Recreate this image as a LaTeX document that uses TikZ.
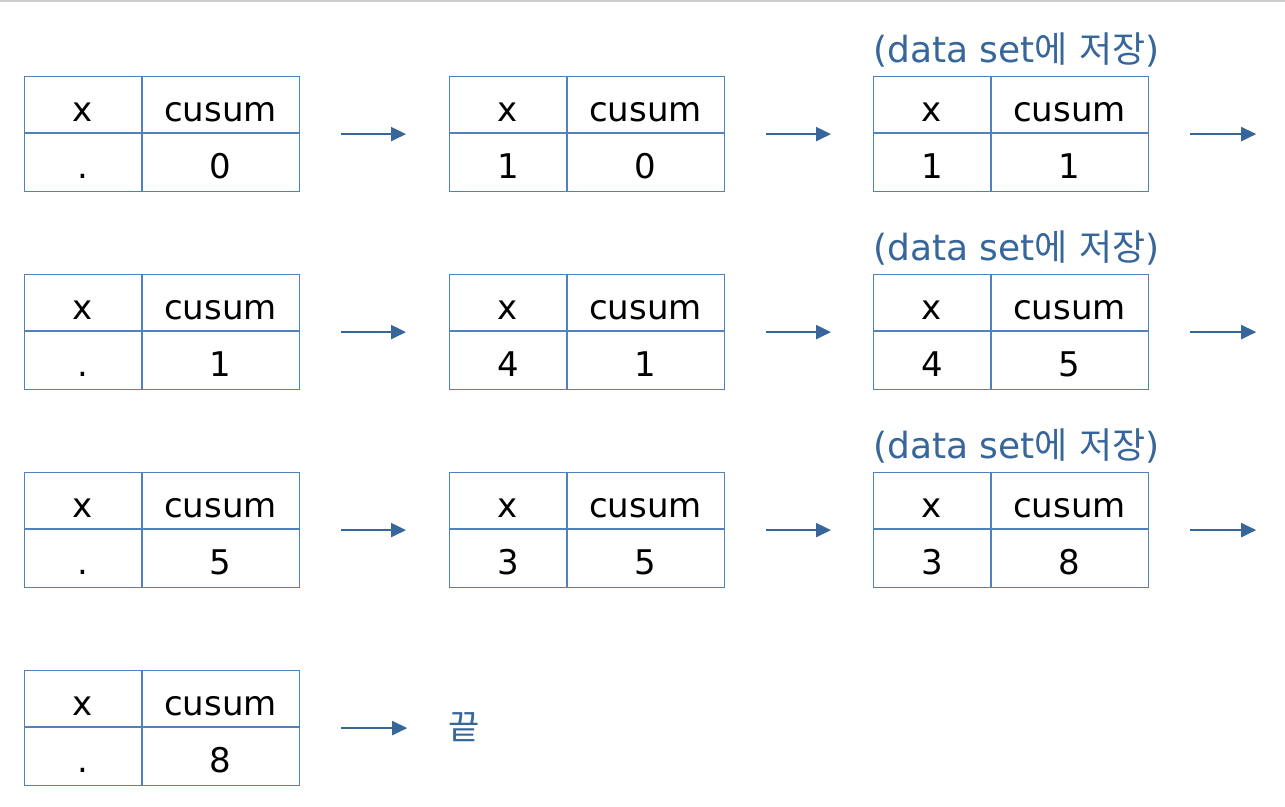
\documentclass[tikz,border=0pt]{standalone}
\usepackage{fontspec}
\setmainfont{DejaVu Sans}
\newfontfamily\krfont{Noto Sans CJK KR}
\usetikzlibrary{calc,arrows.meta}
\definecolor{tblue}{RGB}{79,129,189}
\definecolor{ablue}{RGB}{55,102,155}
\tikzset{
  tbox/.style={draw=tblue, line width=1.2pt, minimum width=275pt, minimum height=115pt, inner sep=0pt, anchor=north west},
  tline/.style={draw=tblue, line width=1.2pt},
  cell/.style={font=\fontsize{34}{40}\selectfont, anchor=base, inner sep=0pt},
  flow/.style={draw=ablue, line width=2.2pt, -{Triangle[length=15pt,width=14pt]}},
  lbl/.style={text=ablue, font=\fontsize{36}{42}\selectfont, anchor=base west, inner sep=0pt},
  endtxt/.style={text=ablue, font=\krfont\fontsize{34}{40}\selectfont, inner sep=0pt}
}
\newcommand{\mytbl}[5]{%
  \node[tbox] (#1) at (#2,#3) {};
  \draw[tline] ($(#1.north west)+(118,0)$) -- ($(#1.south west)+(118,0)$);
  \draw[tline] ($(#1.north west)+(0,57)$) -- ($(#1.north east)+(0,57)$);
  \node[cell] (#1hx) at ($(#1.north west)+(59,45)$) {x};
  \node[cell] (#1hc) at ($(#1.north west)+(196.5,45)$) {cusum};
  \node[cell] (#1vx) at ($(#1.north west)+(59,102)$) {#4};
  \node[cell] (#1vc) at ($(#1.north west)+(196.5,102)$) {#5};
}
\begin{document}
\begin{tikzpicture}[x=1pt,y=-1pt]
\useasboundingbox (0,0) rectangle (1285,806);
\fill[white] (0,0) rectangle (1285,806);
\draw[black!20, line width=1.5pt] (0,1) -- (1285,1);

\mytbl{t11}{24}{76}{.}{0}
\mytbl{t12}{449}{76}{1}{0}
\mytbl{t13}{873}{76}{1}{1}
\mytbl{t21}{24}{274}{.}{1}
\mytbl{t22}{449}{274}{4}{1}
\mytbl{t23}{873}{274}{4}{5}
\mytbl{t31}{24}{472}{.}{5}
\mytbl{t32}{449}{472}{3}{5}
\mytbl{t33}{873}{472}{3}{8}
\mytbl{t41}{24}{670}{.}{8}

\node[lbl] (l1) at (873,62) {(data set{\krfont 에} {\krfont 저장})};
\node[lbl] (l2) at (873,260) {(data set{\krfont 에} {\krfont 저장})};
\node[lbl] (l3) at (873,458) {(data set{\krfont 에} {\krfont 저장})};

\node[endtxt] (fin) at (464,727.5) {끝};

\foreach \r in {1,2,3}{
  \draw[flow] ([xshift=41pt]t\r1.east) -- ([xshift=-43pt]t\r2.west);
  \draw[flow] ([xshift=41pt]t\r2.east) -- ([xshift=-42pt]t\r3.west);
  \coordinate (o\r) at ([xshift=107pt]t\r3.east);
  \draw[flow] ([xshift=41pt]t\r3.east) -- (o\r);
}
\coordinate (o4) at ([xshift=107pt]t41.east);
\draw[flow] ([xshift=41pt]t41.east) -- (o4);
\end{tikzpicture}
\end{document}
